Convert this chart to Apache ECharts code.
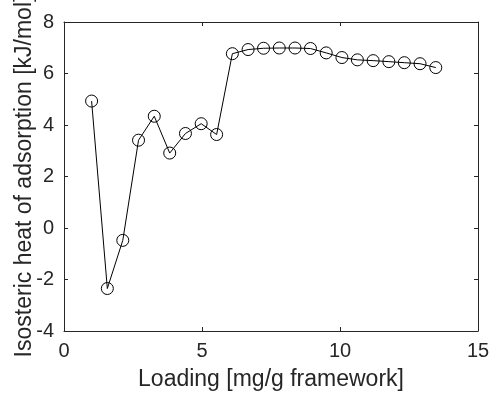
<!DOCTYPE html>
<html>
<head>
<meta charset="utf-8">
<script src="https://cdn.jsdelivr.net/npm/echarts@6/dist/echarts.min.js"></script>
<style>
  html, body { margin: 0; padding: 0; background: #fff; }
  #chart { width: 490px; height: 396px; }
</style>
</head>
<body>
<div id="chart"></div>
<script>
// Loading (mg/g framework) and isosteric heat of adsorption (kJ/mol)
const loading = [1.00, 1.57, 2.13, 2.70, 3.27, 3.83, 4.40, 4.97, 5.53, 6.10, 6.67, 7.23,
                 7.80, 8.37, 8.93, 9.50, 10.07, 10.63, 11.20, 11.77, 12.33, 12.90, 13.47];
const heat = [4.93, -2.35, -0.48, 3.41, 4.34, 2.91, 3.67, 4.05, 3.63, 6.77, 6.93, 6.98,
              6.99, 6.99, 6.97, 6.80, 6.62, 6.53, 6.50, 6.46, 6.42, 6.38, 6.23];

const xTicks = { min: 0, max: 15, interval: 5 };
const yTicks = { min: -4, max: 8, interval: 2 };
const xTitle = 'Loading [mg/g framework]';
const yTitle = 'Isosteric heat of adsorption [kJ/mol]';

const ink = '#262626';
const font = '"Liberation Sans", Arial, Helvetica, sans-serif';

const frameAxis = (extra) => Object.assign({
  axisLine: { show: true, onZero: false, lineStyle: { color: ink, width: 1 } },
  axisTick: { show: true, inside: true, length: 4, lineStyle: { color: ink, width: 1 } },
  splitLine: { show: false }
}, extra);

const chart = echarts.init(document.getElementById('chart'), null, { renderer: 'canvas' });
chart.setOption({
  animation: false,
  backgroundColor: '#fff',
  grid: { left: 64, right: 12, top: 22, bottom: 65, containLabel: false, outerBoundsMode: 'none' },
  xAxis: [
    frameAxis({
      type: 'value', position: 'bottom',
      min: xTicks.min, max: xTicks.max, interval: xTicks.interval,
      axisLabel: { color: ink, fontSize: 20, fontFamily: font, margin: 10 },
      name: xTitle, nameLocation: 'middle', nameGap: 37, nameMoveOverlap: false,
      nameTextStyle: { color: ink, fontSize: 23, fontFamily: font }
    }),
    frameAxis({
      type: 'value', position: 'top',
      min: xTicks.min, max: xTicks.max, interval: xTicks.interval,
      axisLabel: { show: false }
    })
  ],
  yAxis: [
    frameAxis({
      type: 'value', position: 'left',
      min: yTicks.min, max: yTicks.max, interval: yTicks.interval,
      axisLabel: { color: ink, fontSize: 20, fontFamily: font, margin: 10 },
      name: yTitle, nameLocation: 'middle', nameGap: 28, nameMoveOverlap: false,
      nameTextStyle: { color: ink, fontSize: 23, fontFamily: font }
    }),
    frameAxis({
      type: 'value', position: 'right',
      min: yTicks.min, max: yTicks.max, interval: yTicks.interval,
      axisLabel: { show: false }
    })
  ],
  series: [{
    type: 'line',
    xAxisIndex: 0, yAxisIndex: 0,
    data: loading.map((x, i) => [x, heat[i]]),
    symbol: 'circle',
    symbolSize: 12,
    showAllSymbol: true,
    lineStyle: { color: '#000', width: 1 },
    itemStyle: { color: 'rgba(0,0,0,0)', borderColor: '#000', borderWidth: 1 }
  }]
});
</script>
</body>
</html>
